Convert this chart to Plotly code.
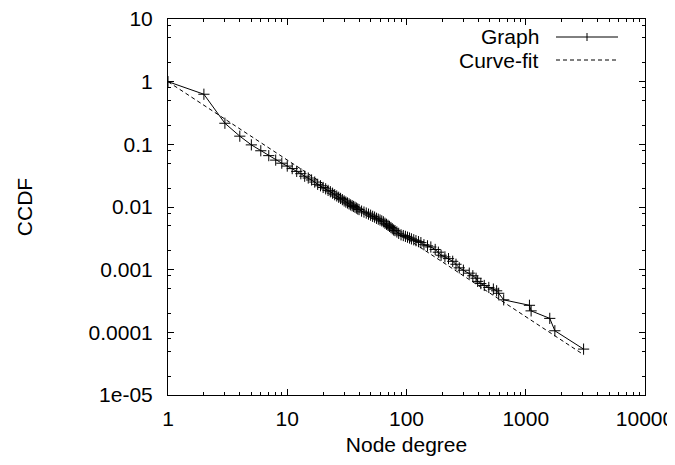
import plotly.graph_objects as go

# Node degree (x) and CCDF (y) of the observed graph
degree = [1, 2, 3, 4, 5, 6, 7, 8, 9, 10,
          11, 12, 13, 14, 15, 16, 17, 18, 19, 20,
          21, 22, 23, 24, 25, 26, 27, 28, 29, 30,
          31, 32, 33, 34, 35, 36, 37, 38, 39, 40,
          42, 44, 46, 48, 50, 52, 54, 56, 58, 60,
          62, 64, 66, 68, 70, 72, 74, 76, 78, 80,
          83, 86, 90, 94, 98, 102, 106, 110, 115, 120,
          126, 132, 140, 150, 160, 174, 185, 195, 210, 225,
          244, 260, 277, 300, 336, 360, 383, 395, 420, 449,
          490, 535, 570, 593, 653, 1074, 1109, 1590, 1754, 3055]
ccdf = [1.0, 0.63, 0.217, 0.135, 0.098, 0.079, 0.066, 0.056, 0.050, 0.045,
        0.041, 0.037, 0.034, 0.031, 0.029, 0.027, 0.025, 0.023, 0.0218, 0.0205,
        0.0195, 0.0184, 0.0175, 0.0166, 0.0157, 0.0150, 0.0143, 0.0137, 0.0131, 0.0125,
        0.0120, 0.0116, 0.0112, 0.0108, 0.0105, 0.0102, 0.0099, 0.0096, 0.0093, 0.0091,
        0.0086, 0.0083, 0.0080, 0.0077, 0.0074, 0.0071, 0.0069, 0.0066, 0.0064, 0.0062,
        0.0060, 0.0058, 0.0055, 0.0053, 0.0051, 0.0049, 0.0047, 0.0045, 0.0043, 0.0042,
        0.0040, 0.0038, 0.0036, 0.0035, 0.0034, 0.0033, 0.0032, 0.0031, 0.0030, 0.0029,
        0.0028, 0.0027, 0.0025, 0.0024, 0.0023, 0.0021, 0.0019, 0.0017, 0.0016, 0.0015,
        0.00136, 0.00122, 0.00107, 0.00098, 0.00088, 0.00080, 0.00073, 0.00065, 0.00060, 0.00056,
        0.00052, 0.00049, 0.00046, 0.00042, 0.00033, 0.00027, 0.00022, 0.000167, 0.000106, 0.000054]

# Power-law curve fit (straight line in log-log), end points
fit_x = [1, 3055]
fit_y = [1.0, 0.000044]

x_ticks = [1, 10, 100, 1000, 10000]
x_ticktext = ["1", "10", "100", "1000", "10000"]
y_ticks = [10, 1, 0.1, 0.01, 0.001, 0.0001, 0.00001]
y_ticktext = ["10", "1", "0.1", "0.01", "0.001", "0.0001", "1e-05"]

x_minor = [m * 10 ** d for d in range(0, 4) for m in range(2, 10)]
y_minor = [m * 10.0 ** d for d in range(-5, 1) for m in (2, 5, 8)]

FONT = "Liberation Sans, Arial, sans-serif"
FS = 21

fig = go.Figure()
fig.add_trace(go.Scatter(
    x=degree, y=ccdf, mode="lines+markers", name="Graph",
    line=dict(color="black", width=1),
    marker=dict(symbol="cross-thin", size=8, color="black",
                line=dict(color="black", width=1)),
    showlegend=False))
fig.add_trace(go.Scatter(
    x=fit_x, y=fit_y, mode="lines", name="Curve-fit",
    line=dict(color="black", width=1, dash="4px,3px"),
    showlegend=False))

axis_common = dict(
    showgrid=False, zeroline=False, showline=True, linecolor="black", linewidth=1,
    mirror="allticks", ticks="inside", ticklen=6, tickcolor="black", tickwidth=1,
    tickfont=dict(family=FONT, size=FS, color="black"), automargin=False,
    ticklabeloverflow="allow",
)

fig.update_xaxes(type="log", range=[0, 4], tickvals=x_ticks, ticktext=x_ticktext,
                 minor=dict(tickvals=x_minor, ticks="inside", ticklen=3,
                            tickcolor="black", showgrid=False),
                 title=dict(text="Node degree", font=dict(family=FONT, size=FS, color="black"),
                            standoff=8),
                 ticklabelstandoff=5,
                 **axis_common)
fig.update_yaxes(type="log", range=[-5, 1], tickvals=y_ticks, ticktext=y_ticktext,
                 minor=dict(tickvals=y_minor, ticks="inside", ticklen=3,
                            tickcolor="black", showgrid=False),
                 title=dict(text="CCDF", font=dict(family=FONT, size=FS, color="black"),
                            standoff=50),
                 ticklabelstandoff=10,
                 **axis_common)

# Legend drawn gnuplot-style: text on the left, sample on the right
leg_text_x = 533
leg_line = (548, 610)
leg_rows = [(29, "Graph", "solid"), (52, "Curve-fit", "4px,3px")]
W, H = 675, 465
ml, mr, mt, mb = 160, 38, 11, 78
pw, ph = W - ml - mr, H - mt - mb


def px(xp):
    return (xp - ml) / pw


def py(yp):
    return 1 - (yp - mt) / ph


shapes = []
annotations = []
for yc, label, dash in leg_rows:
    annotations.append(dict(x=px(leg_text_x), y=py(yc), xref="paper", yref="paper",
                            text=label, showarrow=False, xanchor="right", yanchor="middle",
                            font=dict(family=FONT, size=FS, color="black")))
    shapes.append(dict(type="line", xref="paper", yref="paper",
                       x0=px(leg_line[0]), x1=px(leg_line[1]), y0=py(yc), y1=py(yc),
                       line=dict(color="black", width=1, dash=dash)))
# cross marker on the Graph sample
cx, cy = (leg_line[0] + leg_line[1]) / 2, leg_rows[0][0]
shapes.append(dict(type="line", xref="paper", yref="paper",
                   x0=px(cx), x1=px(cx), y0=py(cy - 4), y1=py(cy + 4),
                   line=dict(color="black", width=1)))

fig.update_layout(
    width=W, height=H,
    margin=dict(l=ml, r=mr, t=mt, b=mb),
    paper_bgcolor="white", plot_bgcolor="white",
    font=dict(family=FONT, size=FS, color="black"),
    shapes=shapes, annotations=annotations,
)

fig.write_html("out.html")
